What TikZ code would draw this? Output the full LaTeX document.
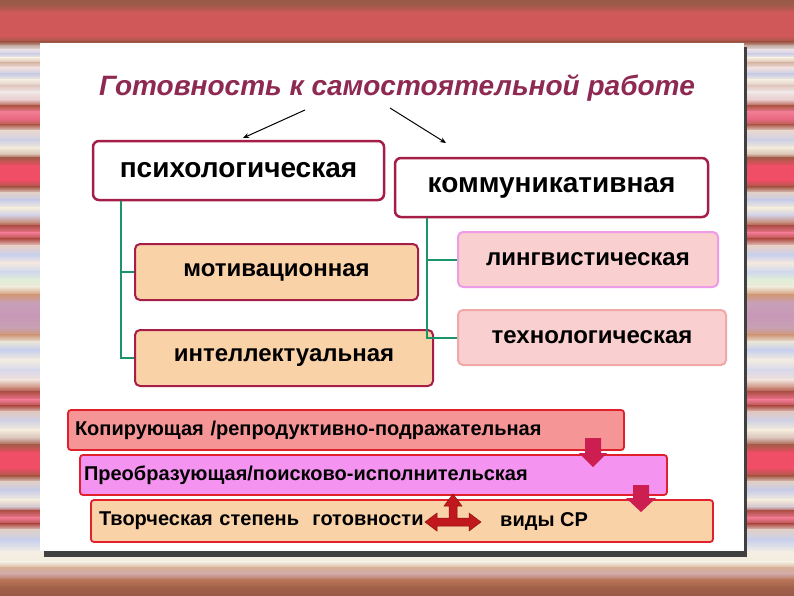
\documentclass[tikz,border=0pt]{standalone}
\usepackage{fontspec}
\setmainfont{Liberation Sans}
\usetikzlibrary{arrows.meta}
\definecolor{titlec}{HTML}{8E2A52}
\definecolor{maroon}{HTML}{A51E48}
\definecolor{greenc}{HTML}{1A9468}
\definecolor{peach}{HTML}{FAD2A8}
\definecolor{pinkf}{HTML}{F9CFCF}
\definecolor{lingb}{HTML}{EE9CE8}
\definecolor{techb}{HTML}{F0A8A8}
\definecolor{salmon}{HTML}{F59596}
\definecolor{magf}{HTML}{F593F0}
\definecolor{redb}{HTML}{E0202A}
\definecolor{crim}{HTML}{CC1E50}
\definecolor{tred}{HTML}{C0181C}
\definecolor{tredd}{HTML}{8B0F12}
\tikzset{
  topbox/.style={draw=maroon, line width=2.5pt, fill=white, rounded corners=6pt, font=\bfseries\fontsize{28}{32}\selectfont, inner sep=0pt},
  subbox/.style={draw=maroon, line width=2pt, fill=peach, rounded corners=5pt, font=\bfseries\fontsize{24}{28}\selectfont, inner sep=0pt},
  pbox/.style={line width=2pt, fill=pinkf, rounded corners=5pt, font=\bfseries\fontsize{24}{28}\selectfont, inner sep=0pt},
  conn/.style={draw=greenc, line width=2pt},
  tarr/.style={-{Stealth[length=6pt,width=5pt]}, line width=1pt, black},
  band/.style={draw=redb, line width=1.8pt, rounded corners=3pt, inner ysep=0pt, align=left, font=\bfseries\fontsize{20}{23}\selectfont},
  blk/.style={fill=crim},
}
\begin{document}
\begin{tikzpicture}[x=1pt,y=-1pt]
\useasboundingbox (0,0) rectangle (794,595);
% background stripes
\foreach \ya/\ca/\yb/\cb in {
0/9A5A48/5/A05A4A, 5/A05A4A/13/D05858, 13/D05858/36/D05858, 36/D05858/42/A05848,
42/A05848/46/C8B0A8, 46/C8B0A8/50/E8E0E8, 50/E8E0E8/54/D0D0E8, 54/D0D0E8/58/F4ECDC,
58/F4ECDC/63/D8B8A8, 63/D8B8A8/68/F0E0E0, 68/F0E0E0/74/C8CCE4, 74/C8CCE4/80/F4ECE0,
80/F4ECE0/86/E0C8C0, 86/E0C8C0/92/F0E8E8, 92/F0E8E8/100/E8C8C8, 100/E8C8C8/106/B05848,
106/B05848/112/F07C94, 112/F07C94/119/E86880, 119/E86880/125/B06050, 125/B06050/131/E8D8D0,
131/E8D8D0/140/D0D0E4, 140/D0D0E4/148/F2EADA, 148/F2EADA/154/D8C0B0, 154/D8C0B0/158/A85A48,
158/A85A48/166/F04E66, 166/F04E66/180/F04E66, 180/F04E66/187/A85A48, 187/A85A48/193/E0D0C8,
193/E0D0C8/200/C8CCE8, 200/C8CCE8/208/F4ECDC, 208/F4ECDC/215/D0D0E4, 215/D0D0E4/222/C89080,
222/C89080/226/B05048, 226/B05048/233/F07890, 233/F07890/239/B05048, 239/B05048/246/E8D0C8,
246/E8D0C8/255/C8D0EC, 255/C8D0EC/263/F4E8E0, 263/F4E8E0/272/D0D8EC, 272/D0D8EC/280/E0EED8,
280/E0EED8/287/F0E8D8, 287/F0E8D8/295/D09878, 295/D09878/303/C8A0B8, 303/C8A0B8/315/C898B8,
315/C898B8/328/C8A0B0, 328/C8A0B0/335/D09878, 335/D09878/342/E8E4D8, 342/E8E4D8/350/C8D0EC,
350/C8D0EC/360/F2ECE0, 360/F2ECE0/370/D8D8EC, 370/D8D8EC/380/F0E0D8, 380/F0E0D8/388/C88878,
388/C88878/392/B05048, 392/B05048/400/F07890, 400/F07890/406/B05048, 406/B05048/412/E0C8C0,
412/E0C8C0/420/D0D0E4, 420/D0D0E4/430/F4ECDC, 430/F4ECDC/438/D8C0B8, 438/D8C0B8/445/A85A48,
445/A85A48/453/F04E66, 453/F04E66/468/F04E66, 468/F04E66/476/A85A48, 476/A85A48/482/E0D0C8,
482/E0D0C8/490/C8CCE8, 490/C8CCE8/500/F4ECDC, 500/F4ECDC/507/D0C0C8, 507/D0C0C8/511/B05048,
511/B05048/518/F07890, 518/F07890/524/B05048, 524/B05048/530/E0D0C8, 530/E0D0C8/540/C8D0EC,
540/C8D0EC/552/F4EEE4, 552/F4EEE4/562/F4EEE0, 562/F4EEE0/568/D8B098, 568/D8B098/574/D0A8A8,
574/D0A8A8/580/B87458, 580/B87458/588/A06048, 588/A06048/595/9A5A48}
{
  \definecolor{ctop}{HTML}{\ca}\definecolor{cbot}{HTML}{\cb}
  \shade[top color=ctop, bottom color=cbot] (0,\ya-0.3) rectangle (794,\yb+0.3);
}
% panel
\fill[black!75] (44,47) rectangle (747,557);
\fill[white] (40,43) rectangle (744,551);
% title
\node[font=\bfseries\itshape\fontsize{28}{32}\selectfont, text=titlec] (title) at (397,88) {Готовность к самостоятельной работе};
% top boxes
\node[topbox, minimum width=291pt, minimum height=59pt] (psy) at (238.5,170.5) {психологическая};
\node[topbox, minimum width=313pt, minimum height=59pt] (com) at (551.5,187.5) {коммуникативная};
\node[subbox, minimum width=283pt, minimum height=56pt] (mot) at (276.5,272) {мотивационная};
\node[subbox, minimum width=298pt, minimum height=56pt] (int) at (284,358) {интеллектуальная};
\node[pbox, draw=lingb, minimum width=260pt, minimum height=55pt] (lin) at (588,259.5) {лингвистическая};
\node[pbox, draw=techb, minimum width=268pt, minimum height=55pt] (tec) at (592,337.5) {технологическая};
% connectors
\draw[conn] ([xshift=-117.5pt]psy.south) |- (mot.west);
\draw[conn] ([xshift=-117.5pt]psy.south) |- (int.west);
\draw[conn] ([xshift=-124.5pt]com.south) |- (lin.west);
\draw[conn] ([xshift=-124.5pt]com.south) |- (tec.west);
% title arrows
\coordinate (t1) at (305,110);
\coordinate (t2) at (390,108);
\coordinate (e1) at (243,138);
\coordinate (e2) at (446,143);
\draw[tarr] (t1) -- (e1);
\draw[tarr] (t2) -- (e2);
% bands
\node[band, fill=salmon, minimum height=40pt, inner xsep=7pt, text width=542pt] (b1) at (346,430) {Копирующая /репродуктивно-подражательная};
\node[band, fill=magf, minimum height=40pt, inner xsep=4pt, text width=579pt] (b2) at (373.5,475) {Преобразующая/поисково-исполнительская};
\node[band, fill=peach, minimum height=42pt, inner xsep=8pt, text width=606pt] (b3) at (402,521) {Творческая степень\ \ готовности};
\node[font=\bfseries\fontsize{20}{23}\selectfont, anchor=west, inner sep=0pt] (vid) at (500,521) {виды СР};
% down arrows
\fill[blk] (585,438) -- (601,438) -- (601,453) -- (607,453) -- (593,467) -- (579,453) -- (585,453) -- cycle;
\fill[blk] (633,485) -- (649,485) -- (649,498) -- (656,498) -- (641,512) -- (626,498) -- (633,498) -- cycle;
% T arrow
\filldraw[fill=tred, draw=tredd, line width=0.5pt] (425,522) -- (437,513) -- (437,518) -- (449,518) -- (449,506) -- (444,506) -- (453,494) -- (462,506) -- (457,506) -- (457,518) -- (469,518) -- (469,513) -- (481,522) -- (469,531) -- (469,526) -- (437,526) -- (437,531) -- cycle;
\end{tikzpicture}
\end{document}
